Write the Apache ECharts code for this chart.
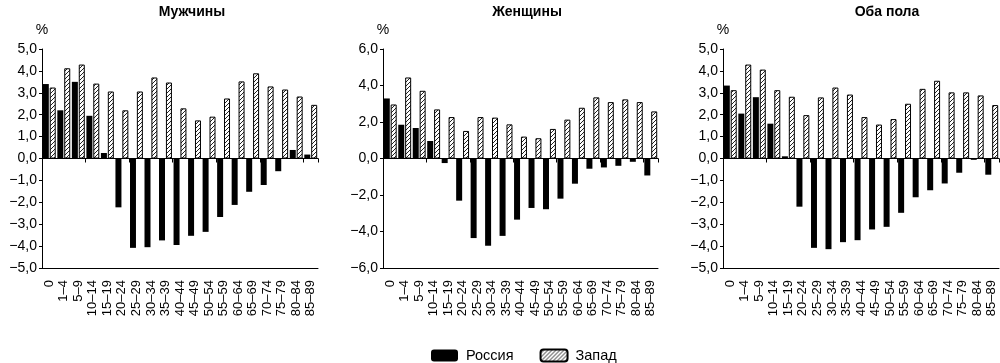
<!DOCTYPE html>
<html>
<head>
<meta charset="utf-8">
<script src="https://cdn.jsdelivr.net/npm/echarts@6/dist/echarts.min.js"></script>
<style>
html,body{margin:0;padding:0;background:#fff;}
#chart{width:1000px;height:363px;}
</style>
</head>
<body>
<div id="chart"></div>
<script>
const categories = ['0','1–4','5–9','10–14','15–19','20–24','25–29','30–34','35–39','40–44','45–49','50–54','55–59','60–64','65–69','70–74','75–79','80–84','85–89'];
const panelTitles = ['Мужчины','Женщины','Оба пола'];
const seriesNames = ['Россия','Запад'];

const menRussia = [3.4,2.2,3.5,1.95,0.25,-2.23,-4.08,-4.05,-3.74,-3.95,-3.53,-3.35,-2.67,-2.12,-1.52,-1.21,-0.58,0.39,0.18];
const menWest   = [3.24,4.12,4.29,3.42,3.06,2.2,3.06,3.7,3.47,2.29,1.74,1.91,2.74,3.52,3.89,3.29,3.15,2.83,2.45];
const womenRussia = [3.29,1.85,1.67,0.96,-0.25,-2.31,-4.36,-4.78,-4.24,-3.35,-2.71,-2.78,-2.2,-1.38,-0.56,-0.49,-0.4,-0.18,-0.93];
const womenWest   = [2.96,4.44,3.71,2.69,2.27,1.51,2.27,2.24,1.87,1.2,1.11,1.62,2.13,2.78,3.35,3.09,3.24,3.09,2.58];
const bothRussia = [3.33,2.05,2.8,1.59,0.1,-2.2,-4.08,-4.14,-3.82,-3.73,-3.24,-3.12,-2.48,-1.77,-1.45,-1.14,-0.65,-0.06,-0.74];
const bothWest   = [3.12,4.29,4.06,3.12,2.82,1.98,2.79,3.24,2.92,1.89,1.55,1.8,2.5,3.18,3.55,3.02,3.02,2.88,2.44];

const yMin = [-5,-6,-5];
const yMax = [5,6,5];
const yStep = [1,2,1];

const russiaData = [menRussia, womenRussia, bothRussia];
const westData = [menWest, womenWest, bothWest];

// hatch pattern
const pc = document.createElement('canvas');
pc.width = 4; pc.height = 4;
const ctx = pc.getContext('2d');
ctx.fillStyle = '#fff';
ctx.fillRect(0,0,4,4);
ctx.strokeStyle = '#222';
ctx.lineWidth = 1;
ctx.beginPath();
ctx.moveTo(0,4); ctx.lineTo(4,0);
ctx.moveTo(-1,1); ctx.lineTo(1,-1);
ctx.moveTo(3,5); ctx.lineTo(5,3);
ctx.stroke();

const FONT = '"Liberation Sans", Arial, Helvetica, sans-serif';
const grids = [
  {left: 42, top: 49, width: 276, height: 219},
  {left: 383, top: 49, width: 275, height: 219},
  {left: 723, top: 49, width: 276, height: 219}
];
const titleX = [187, 522, 882];

function fmt(v){
  const s = Math.abs(v).toFixed(1).replace('.', ',');
  return (v < 0 ? '−' : '') + s;
}

const xAxis = [], yAxis = [], series = [], title = [];
for (let i = 0; i < 3; i++) {
  title.push({
    text: panelTitles[i], left: titleX[i], top: 0, textAlign: 'center',
    textStyle: {fontFamily: FONT, fontSize: 14, fontWeight: 'bold', color: '#000'}
  });
  // bottom label axis
  xAxis.push({
    type: 'category', gridIndex: i, data: categories, position: 'bottom',
    axisLine: {onZero: false, lineStyle: {color: '#000', width: 1}},
    axisTick: {show: false},
    axisLabel: {rotate: 90, interval: 0, margin: 12, fontFamily: FONT, fontSize: 13, color: '#000'}
  });
  // zero-line axis
  xAxis.push({
    type: 'category', gridIndex: i, data: categories, position: 'top',
    axisLine: {onZero: true, lineStyle: {color: '#000', width: 1}},
    axisTick: {show: true, inside: true, length: 4, lineStyle: {color: '#000'}},
    axisLabel: {show: false}
  });
  yAxis.push({
    type: 'value', gridIndex: i, min: yMin[i], max: yMax[i], interval: yStep[i],
    name: '%', nameLocation: 'end', nameGap: 12,
    nameTextStyle: {fontFamily: FONT, fontSize: 14, color: '#000'},
    axisLine: {show: true, lineStyle: {color: '#000', width: 1}},
    axisTick: {show: true, length: 3, lineStyle: {color: '#000'}},
    splitLine: {show: false},
    axisLabel: {formatter: fmt, margin: 5, fontFamily: FONT, fontSize: 14, color: '#000'}
  });
  series.push({
    name: seriesNames[0], type: 'bar', xAxisIndex: i*2+1, yAxisIndex: i,
    data: russiaData[i], barWidth: 6, barGap: '15%',
    itemStyle: {color: '#000'}
  });
  series.push({
    name: seriesNames[1], type: 'bar', xAxisIndex: i*2+1, yAxisIndex: i,
    data: westData[i], barWidth: 6, barGap: '15%',
    itemStyle: {color: {image: pc, repeat: 'repeat'}, borderColor: '#000', borderWidth: 1}
  });
}

const chart = echarts.init(document.getElementById('chart'), null, {renderer: 'canvas'});
chart.setOption({
  backgroundColor: '#fff',
  animation: false,
  title: title,
  legend: {
    data: seriesNames, left: 426, top: 343, itemWidth: 27, itemHeight: 12, itemGap: 26,
    textStyle: {fontFamily: FONT, fontSize: 14.5, color: '#000', padding: [0, 0, 0, 3]}
  },
  grid: grids,
  xAxis: xAxis,
  yAxis: yAxis,
  series: series
});
</script>
</body>
</html>
